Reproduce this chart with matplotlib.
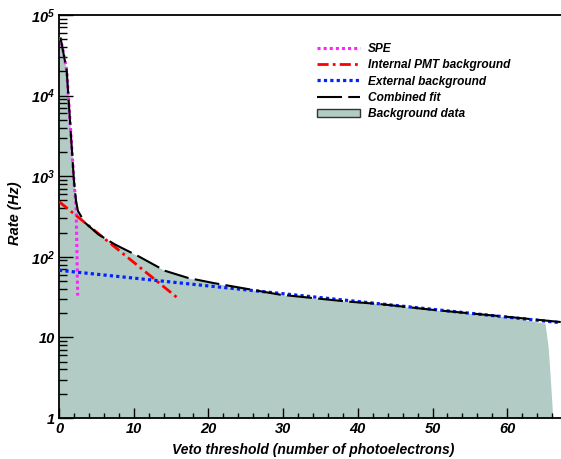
import matplotlib
matplotlib.use("Agg")
import matplotlib.pyplot as plt
from matplotlib.ticker import FixedLocator, MultipleLocator, LogLocator, NullFormatter
from matplotlib.patches import Patch
from matplotlib.lines import Line2D

plt.rcParams['font.family'] = ['Liberation Sans', 'DejaVu Sans']
plt.rcParams['mathtext.fontset'] = 'custom'
plt.rcParams['mathtext.rm'] = 'Liberation Sans:bold:italic'
plt.rcParams['mathtext.it'] = 'Liberation Sans:bold:italic'
plt.rcParams['mathtext.bf'] = 'Liberation Sans:bold:italic'

# ---- data ----
spe_x = [0.13, 0.5, 1.03, 1.47, 2.0, 2.28, 2.37, 2.5]
spe_y = [5.3e4, 3.8e4, 2.06e4, 4.9e3, 877, 420, 172, 33]

internal_x = [0.0, 15.9]
internal_y = [484, 30.7]

external_x = [0.0, 67.2]
external_y = [68, 15.2]

combined_x = [0.2, 0.4, 1.03, 1.47, 2.0, 2.28, 2.54, 3.48, 5.26, 7.5, 10.6, 14.2,
              17.3, 20.66, 29.6, 38.5, 43.0, 50.0, 60.0, 67.2]
combined_y = [5.2e4, 4.2e4, 2.06e4, 4.9e3, 877, 493, 370, 265, 190, 142, 102, 67,
              54.6, 47.3, 33.9, 27.9, 25.9, 22.0, 18.0, 15.5]

data_x = [0.0, 0.2, 0.4, 1.03, 1.47, 2.0, 2.28, 2.54, 3.48, 5.26, 7.5, 10.6, 14.2,
          17.3, 20.66, 29.6, 38.5, 43.0, 50.0, 60.0, 65.06, 65.5, 65.8, 66.1]
data_y = [5.3e4, 5.2e4, 4.2e4, 2.06e4, 4.9e3, 877, 493, 370, 265, 190, 142, 102, 67,
          54.6, 47.3, 33.9, 27.9, 25.9, 22.0, 18.0, 15.0, 7.3, 2.8, 1.0]

y_ticks = [1, 10, 100, 1000, 10000, 100000]
y_tick_labels = ['1', '10', '$10^{2}$', '$10^{3}$', '$10^{4}$', '$10^{5}$']
x_ticks = [0, 10, 20, 30, 40, 50, 60]

labels = ['SPE', 'Internal PMT background', 'External background',
          'Combined fit', 'Background data']

fill_color = '#b2cbc5'

fig = plt.figure(figsize=(5.61, 4.59), dpi=100)
W, H = 561, 459
left, right, top, bottom = 59, 561, 15, 418
ax = fig.add_axes([left / W, (H - bottom) / H, (right - left) / W, (bottom - top) / H])

ax.fill_between(data_x, data_y, 1, color=fill_color, lw=0, zorder=1)
ax.plot(spe_x, spe_y, color='#ff22ff', lw=2.2, linestyle=(0, (1, 1)), zorder=3)
ax.plot(internal_x, internal_y, color='#ff0000', lw=2.0, linestyle=(0, (4, 1.5, 1, 1.5)), zorder=3)
ax.plot(external_x, external_y, color='#0022ff', lw=2.3, linestyle=(0, (1, 1)), zorder=3)
ax.plot(combined_x, combined_y, color='black', lw=1.5, linestyle=(0, (12, 3)), zorder=4)

ax.set_yscale('log')
ax.set_xlim(0, 67.2)
ax.set_ylim(1, 1e5)

ax.yaxis.set_major_locator(FixedLocator(y_ticks))
ax.set_yticklabels(y_tick_labels)
ax.yaxis.set_minor_locator(LogLocator(base=10, subs=range(2, 10)))
ax.yaxis.set_minor_formatter(NullFormatter())
ax.xaxis.set_major_locator(FixedLocator(x_ticks))
ax.set_xticklabels([str(v) for v in x_ticks])
ax.xaxis.set_minor_locator(MultipleLocator(2))

ax.tick_params(axis='y', which='major', direction='in', length=10, width=1.0, pad=3,
               labelsize=10.5)
ax.tick_params(axis='y', which='minor', direction='in', length=5.5, width=1.0)
ax.tick_params(axis='x', which='major', direction='in', length=7, width=1.0, pad=3,
               labelsize=10.5)
ax.tick_params(axis='x', which='minor', direction='in', length=3.8, width=1.0)
for lab in ax.get_xticklabels() + ax.get_yticklabels():
    lab.set_fontweight('bold')
    lab.set_fontstyle('italic')

ax.spines['right'].set_visible(False)
for s in ['left', 'top', 'bottom']:
    ax.spines[s].set_linewidth(1.3)

fig.text(15 / W, 1 - 213 / H, 'Rate (Hz)', rotation=90, ha='center', va='center',
         fontsize=10.5, fontweight='bold', fontstyle='italic')
fig.text(313 / W, 1 - 450 / H, 'Veto threshold (number of photoelectrons)',
         ha='center', va='center', fontsize=10, fontweight='bold', fontstyle='italic')

handles = [
    Line2D([], [], color='#ff22ff', lw=2.2, linestyle=(0, (1, 1))),
    Line2D([], [], color='#ff0000', lw=2.0, linestyle=(0, (4, 1.5, 1, 1.5))),
    Line2D([], [], color='#0022ff', lw=2.3, linestyle=(0, (1, 1))),
    Line2D([], [], color='black', lw=1.5, linestyle=(0, (12, 3))),
    Patch(facecolor=fill_color, edgecolor='#333333', lw=1.0),
]
leg = ax.legend(handles, labels, loc='upper left',
                bbox_to_anchor=((312 - left) / (right - left), 1 - (38 - top) / (bottom - top)),
                frameon=False, handlelength=3.6, handletextpad=0.7, labelspacing=0.37,
                borderaxespad=0, prop={'weight': 'bold', 'style': 'italic', 'size': 8.6})

fig.savefig('out.png', dpi=100)
